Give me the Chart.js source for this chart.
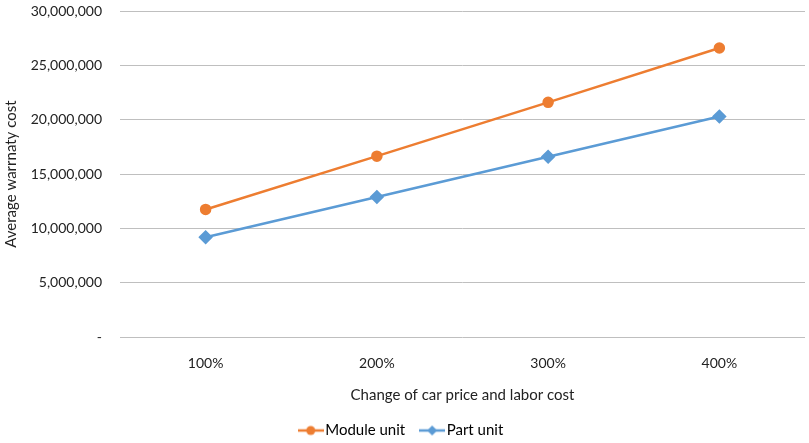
<!DOCTYPE html>
<html>
<head>
<meta charset="utf-8">
<script src="https://cdn.jsdelivr.net/npm/chart.js@4/dist/chart.umd.min.js"></script>
<style>
html,body{margin:0;padding:0;background:#fff;}
#wrap{width:809px;height:443px;}
</style>
</head>
<body>
<div id="wrap"><canvas id="c" width="809" height="443"></canvas></div>
<script>
const categories = ['100%', '200%', '300%', '400%'];
const moduleUnit = [11750000, 16650000, 21600000, 26600000];
const partUnit = [9200000, 12900000, 16600000, 20300000];
const yTicks = [0, 5000000, 10000000, 15000000, 20000000, 25000000, 30000000];

const ORANGE = '#ED7D31';
const BLUE = '#5B9BD5';
const FONT = 'Lato, "Open Sans", sans-serif';

function legendIcon(color, style) {
  const cv = document.createElement('canvas');
  cv.width = 26; cv.height = 12;
  const g = cv.getContext('2d');
  g.strokeStyle = color; g.lineWidth = 2.5;
  g.beginPath(); g.moveTo(0, 6); g.lineTo(26, 6); g.stroke();
  g.fillStyle = color;
  g.beginPath();
  if (style === 'circle') { g.arc(13, 6, 4.5, 0, Math.PI * 2); }
  else { g.moveTo(13, 1); g.lineTo(18, 6); g.lineTo(13, 11); g.lineTo(8, 6); g.closePath(); }
  g.fill();
  return cv;
}
const icons = [legendIcon(ORANGE, 'circle'), legendIcon(BLUE, 'diamond')];

new Chart(document.getElementById('c'), {
  type: 'line',
  data: {
    labels: categories,
    datasets: [
      { label: 'Module unit', data: moduleUnit, borderColor: ORANGE, backgroundColor: ORANGE,
        borderWidth: 2.5, pointStyle: 'circle', pointRadius: 4.5, pointHoverRadius: 4.5, tension: 0 },
      { label: 'Part unit', data: partUnit, borderColor: BLUE, backgroundColor: BLUE,
        borderWidth: 2.5, pointStyle: 'rectRot', pointRadius: 5.5, pointHoverRadius: 5.5, tension: 0 }
    ]
  },
  options: {
    responsive: false,
    animation: false,
    layout: { autoPadding: false, padding: { top: 0, right: 4, left: 2, bottom: -5 } },
    plugins: {
      tooltip: { enabled: false },
      legend: {
        position: 'bottom',
        labels: {
          usePointStyle: true,
          pointStyleWidth: 14,
          font: { family: FONT, size: 15 },
          color: '#222',
          padding: 20,
          generateLabels: (chart) => chart.data.datasets.map((ds, i) => ({
            text: ds.label, pointStyle: icons[i], fillStyle: ds.borderColor,
            strokeStyle: ds.borderColor, lineWidth: 0, datasetIndex: i, hidden: false
          }))
        }
      }
    },
    scales: {
      x: {
        offset: true,
        grid: { display: false, drawTicks: false },
        border: { display: false },
        ticks: { font: { family: FONT, size: 14 }, color: '#222', padding: 18 },
        title: { display: true, text: 'Change of car price and labor cost',
          font: { family: FONT, size: 15 }, color: '#222', padding: { top: -4, bottom: -1 } },
        afterFit: (s) => { s.paddingLeft = 0; s.paddingRight = 0; }
      },
      y: {
        min: 0, max: 30000000,
        afterBuildTicks: (axis) => { axis.ticks = yTicks.map(v => ({ value: v })); },
        grid: { color: '#BFBFBF', lineWidth: 1, drawTicks: false },
        border: { display: false },
        ticks: {
          font: { family: FONT, size: 14 }, color: '#222', padding: 18,
          callback: (v) => v === 0 ? '-' : Number(v).toLocaleString('en-US')
        },
        title: { display: true, text: 'Average warrnaty cost',
          font: { family: FONT, size: 15 }, color: '#222', padding: { top: 0, bottom: 4 } },
        afterFit: (s) => { s.width = 118; s.paddingTop = 11; }
      }
    }
  }
});
</script>
</body>
</html>
